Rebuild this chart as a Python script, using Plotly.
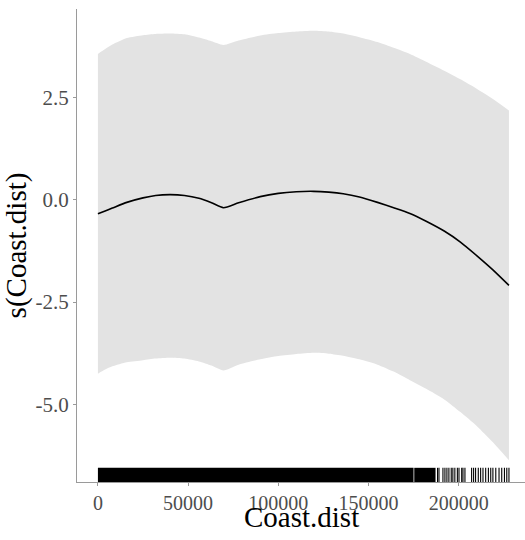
import plotly.graph_objects as go

# Smooth term s(Coast.dist): fitted curve with its confidence band
coast_dist = [0, 4000, 8000, 16000, 25000, 32000, 40000, 48000, 56000, 63000, 69600,
              78000, 90000, 100000, 110000, 119600, 128000, 136000, 145000, 155000,
              164000, 173000, 182000, 192000, 201000, 210000, 219000, 227900]
fit = [-0.34, -0.27, -0.20, -0.06, 0.05, 0.11, 0.13, 0.11, 0.04, -0.07, -0.19,
       -0.07, 0.08, 0.16, 0.20, 0.21, 0.19, 0.15, 0.07, -0.06,
       -0.19, -0.33, -0.52, -0.76, -1.03, -1.36, -1.71, -2.09]
upper = [3.57, 3.69, 3.80, 3.96, 4.03, 4.06, 4.07, 4.05, 3.97, 3.88, 3.79,
         3.90, 4.02, 4.08, 4.12, 4.14, 4.12, 4.07, 3.98, 3.86,
         3.72, 3.57, 3.38, 3.16, 2.95, 2.72, 2.47, 2.19]
lower = [-4.25, -4.15, -4.07, -3.97, -3.92, -3.88, -3.86, -3.88, -3.95, -4.05, -4.17,
         -4.03, -3.90, -3.82, -3.77, -3.74, -3.76, -3.81, -3.90, -4.03,
         -4.20, -4.41, -4.62, -4.88, -5.19, -5.53, -5.93, -6.37]

# Rug of observed Coast.dist values: a dense run, then isolated observations
rug_dense_spans = [[0, 175000], [175400, 187200]]
rug_sparse = [188300, 189100, 191300, 192400, 193500, 194600, 195900, 196800,
              197900, 199300, 200200, 201700, 202400, 203500, 207200, 208300,
              209400, 210900, 212200, 213500, 215000, 216500, 217800, 219000,
              220600, 222400, 223900, 225400, 226700, 227900]

x_ticks = [0, 50000, 100000, 150000, 200000]
x_tick_text = ["0", "50000", "100000", "150000", "200000"]
y_ticks = [-5.0, -2.5, 0.0, 2.5]
y_tick_text = ["-5.0", "-2.5", "0.0", "2.5"]

fig = go.Figure()

band_line = dict(width=0, shape="spline", smoothing=0.6)

# confidence band: lower edge, then upper edge filled down to it
fig.add_trace(go.Scatter(
    x=coast_dist, y=lower, mode="lines", line=band_line,
    hoverinfo="skip", showlegend=False))
fig.add_trace(go.Scatter(
    x=coast_dist, y=upper, mode="lines", line=band_line,
    fill="tonexty", fillcolor="#e3e3e3",
    hoverinfo="skip", showlegend=False))

# fitted smooth
fig.add_trace(go.Scatter(
    x=coast_dist, y=fit, mode="lines",
    line=dict(color="black", width=1.6, shape="spline", smoothing=0.6),
    showlegend=False))

# rug along the bottom of the panel
shapes = []
for x0, x1 in rug_dense_spans:
    shapes.append(dict(type="rect", xref="x", yref="y domain",
                       x0=x0, x1=x1, y0=0, y1=0.03,
                       fillcolor="black", line=dict(width=0)))
for xv in rug_sparse:
    shapes.append(dict(type="line", xref="x", yref="y domain",
                       x0=xv, x1=xv, y0=0, y1=0.03,
                       line=dict(color="black", width=1.1)))

serif = "Liberation Serif"

fig.update_layout(
    width=525, height=540,
    margin=dict(l=77, r=0, t=9, b=58),
    paper_bgcolor="white", plot_bgcolor="white",
    shapes=shapes,
    font=dict(family=serif),
    annotations=[dict(
        text="Coast.dist", xref="paper", yref="paper",
        x=0.5, y=-0.111, xanchor="center", yanchor="bottom",
        showarrow=False, font=dict(family=serif, size=29, color="black"))],
    xaxis=dict(
        range=[-11600, 236800],
        tickvals=x_ticks, ticktext=x_tick_text,
        showgrid=False, zeroline=False,
        showline=True, linecolor="#9a9a9a", linewidth=1,
        ticks="outside", ticklen=3, tickcolor="#9a9a9a", tickwidth=1,
        tickfont=dict(family=serif, size=20, color="#4d4d4d"),
    ),
    yaxis=dict(
        range=[-6.90, 4.67],
        tickvals=y_ticks, ticktext=y_tick_text,
        showgrid=False, zeroline=False,
        showline=True, linecolor="#9a9a9a", linewidth=1,
        ticks="outside", ticklen=3, tickcolor="#9a9a9a", tickwidth=1,
        tickfont=dict(family=serif, size=21, color="#4d4d4d"),
        title=dict(text="s(Coast.dist)", font=dict(family=serif, size=29, color="black"),
                   standoff=2),
    ),
)

fig.write_html("out.html")
